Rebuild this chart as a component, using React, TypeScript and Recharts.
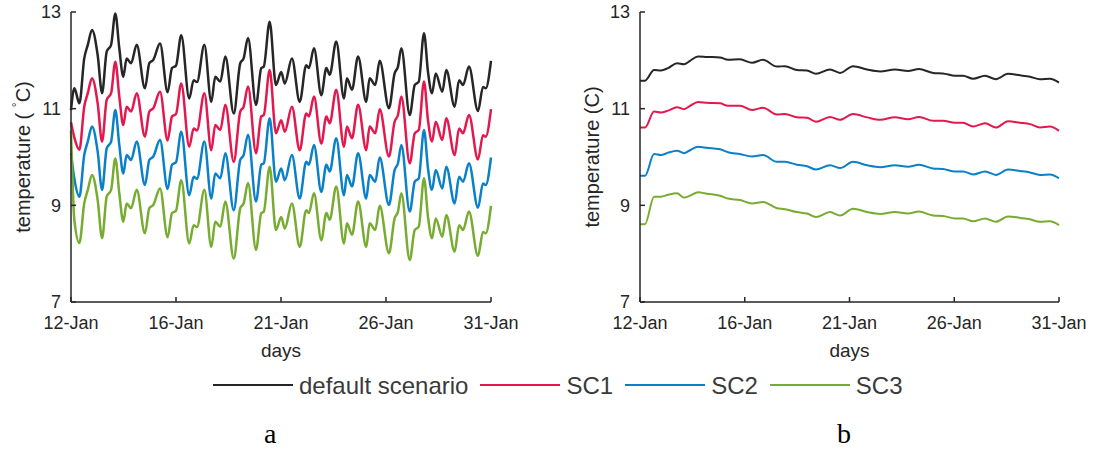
import React from 'react';
import { LineChart, Line, XAxis, YAxis } from 'recharts';

// x = days after the first tick, y = temperature in °C

// panel a: hourly-resolved run with daily cycle
const daysA = [
  0, 0.16, 0.4, 0.63, 0.8, 1.0, 1.27, 1.48, 1.7, 1.91, 2.11, 2.3, 2.49, 2.65, 2.86, 3.13, 3.52, 3.73, 3.92, 4.24,
  4.6, 4.81, 5.0, 5.25, 5.63, 5.84, 6.0, 6.35, 6.68, 6.87, 7.11, 7.35, 7.75, 8.06, 8.22, 8.43, 8.81, 9.06, 9.18, 9.46,
  9.76, 10.01, 10.18, 10.52, 10.89, 11.2, 11.33, 11.57, 11.92, 12.16, 12.32, 12.63, 13.0, 13.14, 13.38, 13.67, 14.06, 14.22, 14.49, 14.7,
  15.14, 15.41, 15.57, 15.73, 16.13, 16.37, 16.56, 16.81, 17.0, 17.19, 17.37, 17.68, 17.87, 18.27, 18.48, 18.67, 18.95, 19.38, 19.62, 19.75,
  20.0,
];
const defaultA = [
  10.97, 11.42, 11.11, 12.04, 12.32, 12.63, 12.11, 11.32, 12.18, 12.32, 12.97, 12.25, 11.66, 12.04, 11.94, 12.32, 11.42, 11.94, 12.01, 12.35,
  11.34, 11.84, 11.89, 12.52, 11.21, 11.59, 11.55, 12.32, 11.14, 11.66, 11.56, 12.08, 10.9, 11.94, 12.04, 12.46, 11.08, 11.84, 11.87, 12.8,
  11.49, 11.76, 11.52, 12.04, 11.14, 11.9, 11.84, 12.25, 11.28, 11.84, 11.7, 12.39, 11.21, 11.63, 11.39, 12.08, 11.14, 11.63, 11.49, 11.99,
  11.01, 11.73, 11.87, 12.25, 10.87, 11.49, 11.56, 12.56, 11.76, 11.32, 11.73, 11.35, 11.8, 11.04, 11.59, 11.49, 11.87, 10.95, 11.45, 11.42,
  11.99,
];
const sc1A = [
  10.72, 10.4, 10.15, 11.04, 11.32, 11.63, 11.11, 10.32, 11.18, 11.32, 11.97, 11.25, 10.66, 11.04, 10.94, 11.32, 10.42, 10.94, 11.01, 11.35,
  10.34, 10.84, 10.89, 11.52, 10.21, 10.59, 10.55, 11.32, 10.14, 10.66, 10.56, 11.08, 9.9, 10.94, 11.04, 11.46, 10.08, 10.84, 10.87, 11.8,
  10.49, 10.76, 10.52, 11.04, 10.14, 10.9, 10.84, 11.25, 10.28, 10.84, 10.7, 11.39, 10.21, 10.63, 10.39, 11.08, 10.14, 10.63, 10.49, 10.99,
  10.01, 10.73, 10.87, 11.25, 9.87, 10.49, 10.56, 11.56, 10.76, 10.32, 10.73, 10.35, 10.8, 10.04, 10.59, 10.49, 10.87, 9.95, 10.45, 10.42,
  10.99,
];
const sc2A = [
  10.08, 9.55, 9.18, 10.04, 10.32, 10.63, 10.11, 9.32, 10.18, 10.32, 10.97, 10.25, 9.66, 10.04, 9.94, 10.32, 9.42, 9.94, 10.01, 10.35,
  9.34, 9.84, 9.89, 10.52, 9.21, 9.59, 9.55, 10.32, 9.14, 9.66, 9.56, 10.08, 8.9, 9.94, 10.04, 10.46, 9.08, 9.84, 9.87, 10.8,
  9.49, 9.76, 9.52, 10.04, 9.14, 9.9, 9.84, 10.25, 9.28, 9.84, 9.7, 10.39, 9.21, 9.63, 9.39, 10.08, 9.14, 9.63, 9.49, 9.99,
  9.01, 9.73, 9.87, 10.25, 8.87, 9.49, 9.56, 10.56, 9.76, 9.32, 9.73, 9.35, 9.8, 9.04, 9.59, 9.49, 9.87, 8.95, 9.45, 9.42,
  9.99,
];
const sc3A = [
  10.55, 8.7, 8.22, 9.04, 9.32, 9.63, 9.11, 8.32, 9.18, 9.32, 9.97, 9.25, 8.66, 9.04, 8.94, 9.32, 8.42, 8.94, 9.01, 9.35,
  8.34, 8.84, 8.89, 9.52, 8.21, 8.59, 8.55, 9.32, 8.14, 8.66, 8.56, 9.08, 7.9, 8.94, 9.04, 9.46, 8.08, 8.84, 8.87, 9.8,
  8.49, 8.76, 8.52, 9.04, 8.14, 8.9, 8.84, 9.25, 8.28, 8.84, 8.7, 9.39, 8.21, 8.63, 8.39, 9.08, 8.14, 8.63, 8.49, 8.99,
  8.01, 8.73, 8.87, 9.25, 7.87, 8.49, 8.56, 9.56, 8.76, 8.32, 8.73, 8.35, 8.8, 8.04, 8.59, 8.49, 8.87, 7.95, 8.45, 8.42,
  8.99,
];

// panel b: daily-mean run
const daysB = [
  0, 0.24, 0.67, 1.0, 1.34, 1.77, 2.1, 2.39, 2.77, 3.2, 3.82, 4.2, 4.77, 5.35, 5.87, 6.54, 6.92, 7.49, 7.97, 8.4,
  9.07, 9.55, 10.17, 10.84, 11.46, 12.17, 12.79, 13.32, 13.99, 14.46, 15.04, 15.42, 15.9, 16.47, 16.99, 17.57, 18.14, 18.62, 19.09, 19.57,
  20.0,
];
const defaultB = [
  11.58, 11.58, 11.8, 11.79, 11.84, 11.94, 11.92, 11.99, 12.08, 12.07, 12.06, 12.01, 12.02, 11.95, 12.01, 11.87, 11.88, 11.8, 11.79, 11.72,
  11.81, 11.74, 11.88, 11.81, 11.77, 11.81, 11.78, 11.82, 11.74, 11.73, 11.68, 11.68, 11.62, 11.68, 11.61, 11.72, 11.69, 11.66, 11.61, 11.62,
  11.54,
];
const sc1B = [
  10.61, 10.61, 10.94, 10.92, 10.96, 11.03, 10.99, 11.06, 11.14, 11.12, 11.11, 11.06, 11.06, 10.97, 11.02, 10.88, 10.89, 10.82, 10.81, 10.73,
  10.83, 10.77, 10.89, 10.82, 10.77, 10.82, 10.78, 10.83, 10.75, 10.75, 10.71, 10.71, 10.63, 10.7, 10.61, 10.74, 10.71, 10.68, 10.61, 10.63,
  10.54,
];
const sc2B = [
  9.61, 9.61, 10.06, 10.04, 10.09, 10.13, 10.08, 10.14, 10.21, 10.19, 10.16, 10.1, 10.06, 10.01, 10.04, 9.9, 9.9, 9.84, 9.81, 9.74,
  9.83, 9.77, 9.9, 9.83, 9.79, 9.83, 9.8, 9.84, 9.76, 9.75, 9.7, 9.7, 9.64, 9.7, 9.63, 9.74, 9.71, 9.68, 9.63, 9.64,
  9.56,
];
const sc3B = [
  8.61, 8.61, 9.18, 9.18, 9.22, 9.25, 9.16, 9.2, 9.27, 9.24, 9.2, 9.14, 9.11, 9.04, 9.07, 8.94, 8.92, 8.86, 8.83, 8.76,
  8.86, 8.79, 8.93, 8.86, 8.82, 8.86, 8.83, 8.87, 8.79, 8.78, 8.73, 8.73, 8.67, 8.73, 8.66, 8.77, 8.74, 8.71, 8.66, 8.67,
  8.59,
];

const dayTicks = [0, 5, 10, 15, 20];
const dayLabels = ['12-Jan', '16-Jan', '21-Jan', '26-Jan', '31-Jan'];
const tempTicks = [7, 9, 11, 13];

const seriesNames = ['default scenario', 'SC1', 'SC2', 'SC3'];
const seriesColors = ['#262626', '#E2184E', '#0A80C8', '#77AC30'];

const AXIS = '#262626';
const FONT = "'Liberation Sans', Arial, Helvetica, sans-serif";
const SERIF = "'Liberation Serif', 'Times New Roman', serif";

type Row = { day: number; s0: number; s1: number; s2: number; s3: number };

const toRows = (days: number[], cols: number[][]): Row[] =>
  days.map((d, i) => ({ day: d, s0: cols[0][i], s1: cols[1][i], s2: cols[2][i], s3: cols[3][i] }));

const rowsA = toRows(daysA, [defaultA, sc1A, sc2A, sc3A]);
const rowsB = toRows(daysB, [defaultB, sc1B, sc2B, sc3B]);

const axisStroke = { stroke: AXIS, strokeWidth: 1.5 };

const TempLabel = ({ viewBox, degree }: any) => {
  const cx = viewBox.x + viewBox.width - 41;
  const cy = viewBox.y + viewBox.height / 2;
  return (
    <text
      x={cx}
      y={cy}
      transform={`rotate(-90 ${cx} ${cy})`}
      textAnchor="middle"
      fill={AXIS}
      fontSize={20}
      fontFamily={FONT}
    >
      {degree ? (
        <>
          {'temperature ( '}
          <tspan dy={-9} fontSize={12}>°</tspan>
          <tspan dy={9}>C)</tspan>
        </>
      ) : (
        'temperature (C)'
      )}
    </text>
  );
};

type PanelProps = {
  rows: Row[];
  width: number;
  yAxisWidth: number;
  marginRight: number;
  degree: boolean;
  lineWidth: number;
};

const Panel = ({ rows, width, yAxisWidth, marginRight, degree, lineWidth }: PanelProps) => (
  <LineChart width={width} height={362} data={rows} margin={{ top: 12, right: marginRight, bottom: 0, left: 0 }}>
    <XAxis
      dataKey="day"
      type="number"
      domain={[0, 20]}
      ticks={dayTicks}
      interval={0}
      tickFormatter={(v: number) => dayLabels[dayTicks.indexOf(v)]}
      tickSize={-5}
      tickMargin={19}
      height={60}
      axisLine={axisStroke}
      tickLine={axisStroke}
      tick={{ fill: AXIS, fontSize: 18, fontFamily: FONT }}
      label={{ value: 'days', position: 'insideBottom', offset: 5, fill: AXIS, fontSize: 19, fontFamily: FONT }}
    />
    <XAxis
      xAxisId="top"
      orientation="top"
      dataKey="day"
      type="number"
      domain={[0, 20]}
      ticks={dayTicks}
      interval={0}
      tick={false}
      tickSize={-5}
      height={0}
      axisLine={axisStroke}
      tickLine={axisStroke}
    />
    <YAxis
      type="number"
      domain={[7, 13]}
      ticks={tempTicks}
      interval={0}
      tickSize={-5}
      tickMargin={15}
      width={yAxisWidth}
      axisLine={axisStroke}
      tickLine={axisStroke}
      tick={{ fill: AXIS, fontSize: 18, fontFamily: FONT }}
      label={(p: any) => <TempLabel {...p} degree={degree} />}
    />
    <YAxis
      yAxisId="right"
      orientation="right"
      type="number"
      domain={[7, 13]}
      ticks={tempTicks}
      interval={0}
      tick={false}
      tickSize={-5}
      width={0}
      axisLine={axisStroke}
      tickLine={axisStroke}
    />
    {seriesNames.map((name, i) => (
      <Line
        key={name}
        name={name}
        dataKey={`s${i}`}
        type="monotone"
        stroke={seriesColors[i]}
        strokeWidth={lineWidth}
        dot={false}
        activeDot={false}
        isAnimationActive={false}
      />
    ))}
  </LineChart>
);

const SeriesLegend = () => (
  <div
    style={{
      position: 'absolute',
      left: 213,
      top: 371,
      height: 28,
      display: 'flex',
      alignItems: 'center',
      fontFamily: FONT,
      fontSize: 24,
      color: '#3a3a3a',
      whiteSpace: 'nowrap',
    }}
  >
    {seriesNames.map((name, i) => (
      <div key={name} style={{ display: 'flex', alignItems: 'center', marginRight: 12 }}>
        <div style={{ width: 80, height: 2, background: seriesColors[i], marginRight: 6 }} />
        <span style={{ position: 'relative', top: 1 }}>{name}</span>
      </div>
    ))}
  </div>
);

const panelTag = (text: string, left: number) => (
  <div
    style={{
      position: 'absolute',
      left,
      top: 420,
      fontFamily: SERIF,
      fontSize: 28,
      lineHeight: '28px',
      color: '#000',
    }}
  >
    {text}
  </div>
);

export default function App() {
  return (
    <div style={{ position: 'absolute', left: 0, top: 0, width: 1093, height: 450, background: '#fff', overflow: 'hidden' }}>
      <div style={{ position: 'absolute', left: 0, top: 0 }}>
        <Panel rows={rowsA} width={540} yAxisWidth={71} marginRight={49} degree lineWidth={2.5} />
      </div>
      <div style={{ position: 'absolute', left: 560, top: 0 }}>
        <Panel rows={rowsB} width={533} yAxisWidth={80} marginRight={34} degree={false} lineWidth={2} />
      </div>
      <SeriesLegend />
      {panelTag('a', 264)}
      {panelTag('b', 837)}
    </div>
  );
}
